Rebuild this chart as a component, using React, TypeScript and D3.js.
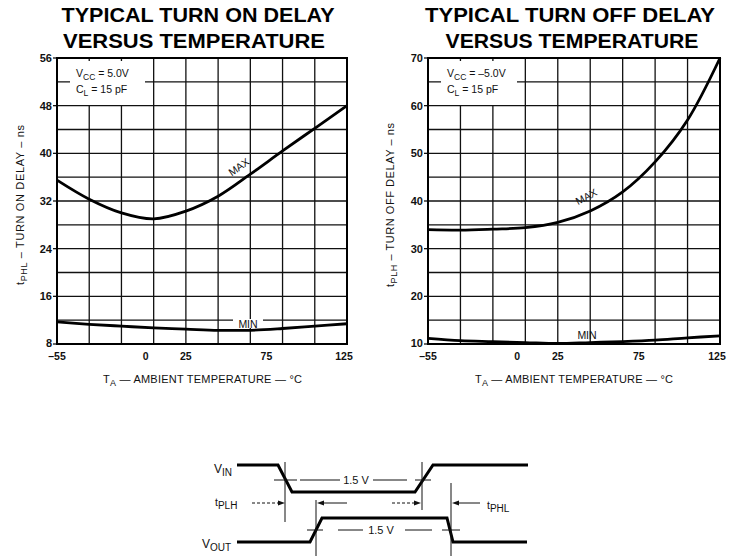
import React from 'react';
import * as d3 from 'd3';

// ---- data ----
const temps = [-55, -35, -15, 5, 25, 45, 65, 85, 105, 125];
const onMax = [35.5, 32.3, 30.0, 29.0, 30.3, 32.8, 36.5, 40.4, 44.2, 48.0];
const onMin = [11.7, 11.3, 11.0, 10.7, 10.5, 10.3, 10.3, 10.6, 11.0, 11.4];
const offMax = [34.0, 33.9, 34.1, 34.4, 35.5, 37.9, 41.9, 48.2, 57.0, 70.0];
const offMin = [11.2, 10.7, 10.5, 10.3, 10.1, 10.3, 10.5, 10.8, 11.3, 11.7];
const xTickLabels = [-55, 0, 25, 75, 125];
const xGridTemps = [-55, -35, -15, 5, 25, 45, 65, 85, 105, 125];
const onYTicks = [8, 16, 24, 32, 40, 48, 56];
const onYGrid = [8, 12, 16, 20, 24, 28, 32, 36, 40, 44, 48, 52, 56];
const offYTicks = [10, 20, 30, 40, 50, 60, 70];
const offYGrid = [10, 15, 20, 25, 30, 35, 40, 45, 50, 55, 60, 65, 70];

// timing diagram waveforms: [time, level]
const vinWave: [number, number][] = [[0, 1], [41, 1], [55, 0], [178, 0], [196, 1], [291, 1]];
const voutWave: [number, number][] = [[0, 0], [73, 0], [85, 1], [210, 1], [216, 0], [290, 0]];

const FONT = '"Liberation Sans", Arial, Helvetica, sans-serif';

type ChartProps = {
  x0: number; x1: number; yTop: number; yBot: number;
  yDomain: [number, number]; yTicks: number[]; yGrid: number[];
  maxData: number[]; minData: number[];
  title1: string; title2: string;
  t1c: number; t1w: number; t2c: number; t2w: number;
  vcc: string; boxX: number; boxW: number;
  ySub: string; yRest: string; yTitleX: number; yTitleLen: number;
  maxLabel: { x: number; y: number; a: number };
  minLabel: { x: number; y: number; bg: boolean };
  xTitleX: number; xTitleLen: number;
};

function Chart(p: ChartProps) {
  const x = d3.scaleLinear().domain([-55, 125]).range([p.x0, p.x1]);
  const y = d3.scaleLinear().domain(p.yDomain).range([p.yBot, p.yTop]);
  const line = d3.line<number>()
    .x((_, i) => x(temps[i]))
    .y((d) => y(d))
    .curve(d3.curveCatmullRom.alpha(0.5));
  return (
    <g>
      <text x={p.t1c} y={22} textAnchor="middle" fontFamily={FONT} fontWeight="bold" fontSize={20}
        textLength={p.t1w} lengthAdjust="spacingAndGlyphs">{p.title1}</text>
      <text x={p.t2c} y={48} textAnchor="middle" fontFamily={FONT} fontWeight="bold" fontSize={20}
        textLength={p.t2w} lengthAdjust="spacingAndGlyphs">{p.title2}</text>

      {/* grid */}
      {p.yGrid.map((v) => (
        <line key={'h' + v} x1={p.x0} x2={p.x1} y1={y(v)} y2={y(v)} stroke="#111" strokeWidth={1.3} />
      ))}
      {xGridTemps.map((t) => (
        <line key={'v' + t} x1={x(t)} x2={x(t)} y1={p.yTop} y2={p.yBot} stroke="#111" strokeWidth={1.3} />
      ))}
      {p.yTicks.map((v) => (
        <line key={'t' + v} x1={p.x0 - 4} x2={p.x0} y1={y(v)} y2={y(v)} stroke="#111" strokeWidth={1.3} />
      ))}

      {/* condition box */}
      <rect x={p.boxX} y={p.yTop + 3} width={p.boxW} height={44} fill="#fff" />
      <text x={p.boxX + 6} y={77} fontFamily={FONT} fontSize={10.5} fill="#111">
        <tspan>V</tspan><tspan dy={3} fontSize={8.5}>CC</tspan><tspan dy={-3}>{' = ' + p.vcc}</tspan>
      </text>
      <text x={p.boxX + 6} y={93} fontFamily={FONT} fontSize={10.5} fill="#111">
        <tspan>C</tspan><tspan dy={3} fontSize={8.5}>L</tspan><tspan dy={-3}>{' = 15 pF'}</tspan>
      </text>

      {/* curves */}
      <path d={line(p.maxData) || ''} fill="none" stroke="#000" strokeWidth={2.8} />
      <path d={line(p.minData) || ''} fill="none" stroke="#000" strokeWidth={2.8} />

      {/* curve labels */}
      <text transform={`translate(${p.maxLabel.x},${p.maxLabel.y}) rotate(${p.maxLabel.a})`}
        textAnchor="middle" fontFamily={FONT} fontSize={10.5} fill="#111">MAX</text>
      {p.minLabel.bg && (
        <rect x={p.minLabel.x - 15} y={p.minLabel.y - 9} width={30} height={9} fill="#fff" />
      )}
      <text x={p.minLabel.x} y={p.minLabel.y} textAnchor="middle" fontFamily={FONT} fontSize={10.5} fill="#111">MIN</text>

      {/* border */}
      <rect x={p.x0} y={p.yTop} width={p.x1 - p.x0} height={p.yBot - p.yTop} fill="none" stroke="#000" strokeWidth={2} />

      {/* y tick labels */}
      {p.yTicks.map((v, i) => (
        <text key={'yl' + v} x={p.x0 - 5} y={y(v) - (i === 0 ? 1 : 0)} dy="0.36em" textAnchor="end" fontFamily={FONT}
          fontWeight="bold" fontSize={11} fill="#111">{v}</text>
      ))}
      {/* x tick labels */}
      {xTickLabels.map((t) => (
        <text key={'xl' + t} x={t === 125 ? x(t) - 3 : x(t)} y={360} textAnchor="middle" fontFamily={FONT}
          fontWeight="bold" fontSize={10.5} fill="#111">{t < 0 ? '\u2013' + Math.abs(t) : String(t)}</text>
      ))}

      {/* x title */}
      <text x={p.xTitleX} y={383} fontFamily={FONT} fontSize={11} fill="#111"
        textLength={p.xTitleLen} lengthAdjust="spacing">
        <tspan>T</tspan><tspan dy={3} fontSize={9}>A</tspan><tspan dy={-3}>{' \u2014 AMBIENT TEMPERATURE \u2014 \u00B0C'}</tspan>
      </text>

      {/* y title */}
      <text transform={`translate(${p.yTitleX},205) rotate(-90)`} textAnchor="middle" fontFamily={FONT}
        fontSize={11} fill="#111" textLength={p.yTitleLen} lengthAdjust="spacing">
        <tspan>t</tspan><tspan dy={3} fontSize={9}>{p.ySub}</tspan><tspan dy={-3}>{p.yRest}</tspan>
      </text>
    </g>
  );
}

function Timing() {
  const tx = d3.scaleLinear().domain([0, 291]).range([237, 528]);
  const vinY = d3.scaleLinear().domain([0, 1]).range([492, 465]);
  const voutY = d3.scaleLinear().domain([0, 1]).range([542, 518]);
  const vinLine = d3.line<[number, number]>().x((d) => tx(d[0])).y((d) => vinY(d[1]));
  const voutLine = d3.line<[number, number]>().x((d) => tx(d[0])).y((d) => voutY(d[1]));
  const thin = { stroke: '#111', strokeWidth: 1 };
  const arrowR = (tip: number, yy: number) => `M${tip},${yy} L${tip - 7},${yy - 2.5} L${tip - 7},${yy + 2.5} Z`;
  const arrowL = (tip: number, yy: number) => `M${tip},${yy} L${tip + 7},${yy - 2.5} L${tip + 7},${yy + 2.5} Z`;
  const ay = 503;
  return (
    <g fontFamily={FONT} fill="#111">
      <text x={232} y={473} textAnchor="end" fontSize={12}>
        <tspan>V</tspan><tspan dy={3} fontSize={10}>IN</tspan>
      </text>
      <text x={231} y={548} textAnchor="end" fontSize={12}>
        <tspan>V</tspan><tspan dy={3} fontSize={10}>OUT</tspan>
      </text>
      <path d={vinLine(vinWave) || ''} fill="none" stroke="#000" strokeWidth={3} />
      <path d={voutLine(voutWave) || ''} fill="none" stroke="#000" strokeWidth={3} />

      {/* vertical markers */}
      <line x1={285} x2={285} y1={462} y2={522} {...thin} />
      <line x1={422} x2={422} y1={462} y2={510} {...thin} />
      <line x1={316} x2={316} y1={500} y2={556} {...thin} />
      <line x1={451} x2={451} y1={483} y2={556} {...thin} />

      {/* 1.5V crossing ticks */}
      <line x1={274} x2={297} y1={480} y2={480} {...thin} />
      <line x1={415} x2={431} y1={480} y2={480} {...thin} />
      <line x1={307} x2={323} y1={530} y2={530} {...thin} />
      <line x1={442} x2={460} y1={530} y2={530} {...thin} />

      {/* 1.5 V reference */}
      <line x1={300} x2={340} y1={480} y2={480} {...thin} />
      <text x={356} y={484} textAnchor="middle" fontSize={11}>1.5 V</text>
      <line x1={373} x2={407} y1={480} y2={480} {...thin} />
      <line x1={338} x2={363} y1={530} y2={530} {...thin} />
      <text x={381} y={534} textAnchor="middle" fontSize={11}>1.5 V</text>
      <line x1={405} x2={432} y1={530} y2={530} {...thin} />

      {/* arrows */}
      <line x1={252} x2={279} y1={ay} y2={ay} stroke="#111" strokeWidth={1} strokeDasharray="3,2" />
      <path d={arrowR(285, ay)} fill="#111" />
      <path d={arrowL(317, ay)} fill="#111" />
      <line x1={323} x2={347} y1={ay} y2={ay} {...thin} />
      <line x1={392} x2={416} y1={ay} y2={ay} stroke="#111" strokeWidth={1} strokeDasharray="3,2" />
      <path d={arrowR(421, ay)} fill="#111" />
      <path d={arrowL(452, ay)} fill="#111" />
      <line x1={458} x2={480} y1={ay} y2={ay} {...thin} />

      <text x={215} y={506} fontSize={12}>
        <tspan fontSize={10.5}>t</tspan><tspan dy={3} fontSize={10}>PLH</tspan>
      </text>
      <text x={487} y={509} fontSize={12}>
        <tspan fontSize={10.5}>t</tspan><tspan dy={3} fontSize={10}>PHL</tspan>
      </text>
    </g>
  );
}

export default function App() {
  return (
    <svg width={738} height={556} viewBox="0 0 738 556"
      style={{ position: 'absolute', left: 0, top: 0, background: '#fff' }}>
      <rect x={0} y={0} width={738} height={556} fill="#fff" />
      <Chart x0={57} x1={347} yTop={58} yBot={344} yDomain={[8, 56]} yTicks={onYTicks} yGrid={onYGrid}
        maxData={onMax} minData={onMin}
        title1="TYPICAL TURN ON DELAY" title2="VERSUS TEMPERATURE"
        t1c={198} t1w={273} t2c={194} t2w={262}
        vcc="5.0V" boxX={70} boxW={75}
        ySub="PHL" yRest={' \u2013 TURN ON DELAY \u2013 ns'} yTitleX={24} yTitleLen={160}
        maxLabel={{ x: 241, y: 170, a: -35 }} minLabel={{ x: 248, y: 328, bg: true }}
        xTitleX={103} xTitleLen={199} />
      <Chart x0={428} x1={720} yTop={58} yBot={344} yDomain={[10, 70]} yTicks={offYTicks} yGrid={offYGrid}
        maxData={offMax} minData={offMin}
        title1="TYPICAL TURN OFF DELAY" title2="VERSUS TEMPERATURE"
        t1c={570} t1w={290} t2c={572} t2w={253}
        vcc={'\u20135.0V'} boxX={441} boxW={76}
        ySub="PLH" yRest={' \u2013 TURN OFF DELAY \u2013 ns'} yTitleX={394} yTitleLen={164}
        maxLabel={{ x: 588, y: 200, a: -28 }} minLabel={{ x: 587, y: 339, bg: false }}
        xTitleX={475} xTitleLen={198} />
      <Timing />
    </svg>
  );
}
